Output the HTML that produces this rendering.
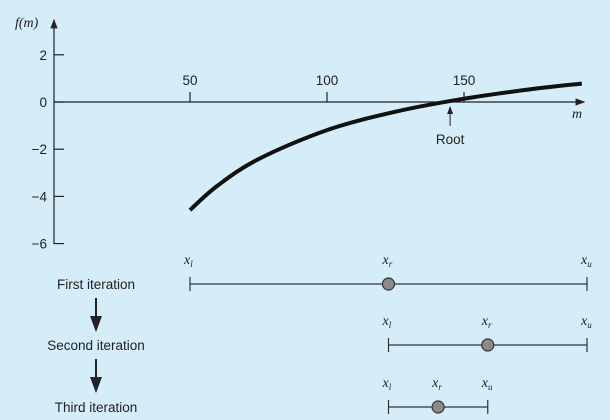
<!DOCTYPE html>
<html><head><meta charset="utf-8"><style>
html,body{margin:0;padding:0;background:#d5ecf9;}
svg{display:block;font-family:"Liberation Sans",sans-serif;}
.t{font-size:13.5px;fill:#222;}
.it{font-family:"Liberation Serif",serif;font-style:italic;font-size:14px;fill:#222;}
</style></head><body>
<svg id="c" width="610" height="420">
<defs><marker id="ah" markerWidth="8" markerHeight="8" refX="7" refY="4" orient="auto"><path d="M0,1 L8,4 L0,7 z" fill="#222"/></marker></defs>
</svg>
<script>
const mValues=[50,60,75,100,125,150,175,193];
const fValues=[-4.58,-3.55,-2.42,-1.19,-0.41,0.14,0.55,0.78];
const yTicks=[2,0,-2,-4,-6];
const yTickLabels=["2","0","\u22122","\u22124","\u22126"];
const xTicks=[50,100,150];
const rootValue=142.74;
const iterNames=["First iteration","Second iteration","Third iteration"];
const iterLower=[50,125,125];
const iterRoot=[125,162.5,143.75];
const iterUpper=[200,200,162.5];

const NS="http://www.w3.org/2000/svg";
const svg=document.getElementById('c');
const X=m=>53+m*2.74;
const Y=f=>102-f*23.6;
const XI=m=>190+(m-50)*(397/150);
function mk(tag,a,txt){const e=document.createElementNS(NS,tag);for(const k in a)e.setAttribute(k,a[k]);if(txt!=null)e.textContent=txt;svg.appendChild(e);return e;}

let e=mk('line',{x1:54,y1:244,x2:54,y2:20,stroke:'#222','stroke-width':1.2,'marker-end':'url(#ah)'});


e=mk('line',{x1:54,y1:102,x2:584,y2:102,stroke:'#222','stroke-width':1.2,'marker-end':'url(#ah)'});


e=mk('text',{x:15,y:27,class:'it'},'f(m)');


e=mk('text',{x:572,y:118,class:'it'},'m');


yTicks.forEach((v,i)=>{
 const t=mk('line',{x1:54,x2:64,y1:Y(v),y2:Y(v),stroke:'#222','stroke-width':1.2});
 
 
 const l=mk('text',{x:47,y:Y(v)+5,class:'t','text-anchor':'end'},yTickLabels[i]);
 
 
});
xTicks.forEach(v=>{
 const t=mk('line',{x1:X(v),x2:X(v),y1:92,y2:102,stroke:'#222','stroke-width':1.2});
 
 
 const l=mk('text',{x:X(v),y:85,class:'t','text-anchor':'middle'},String(v));
 
 
});
const pts=mValues.map((m,i)=>[X(m),Y(fValues[i])]);
let d='M'+pts[0][0]+','+pts[0][1];
for(let i=0;i<pts.length-1;i++){
 const p0=pts[i-1]||pts[i],p1=pts[i],p2=pts[i+1],p3=pts[i+2]||p2;
 d+=' C'+(p1[0]+(p2[0]-p0[0])/6)+','+(p1[1]+(p2[1]-p0[1])/6)+' '+(p2[0]-(p3[0]-p1[0])/6)+','+(p2[1]-(p3[1]-p1[1])/6)+' '+p2[0]+','+p2[1];
}
e=mk('path',{d:d,fill:'none',stroke:'#111','stroke-width':4,'stroke-linecap':'butt'});


e=mk('line',{x1:X(rootValue)+6,y1:126,x2:X(rootValue)+6,y2:107,stroke:'#222','stroke-width':1,'marker-end':'url(#ah)'});


e=mk('text',{x:X(rootValue)+6,y:144,class:'t','text-anchor':'middle'},'Root');



const rowY=[284,345,407];
iterNames.forEach((n,i)=>{
 const y=rowY[i];
 const l=mk('text',{x:96,y:y+5,class:'t','text-anchor':'middle'},n);
 
 
 const a=XI(iterLower[i]),b=XI(iterUpper[i]),r=XI(iterRoot[i]);
 const ln=mk('line',{x1:a,x2:b,y1:y,y2:y,stroke:'#333','stroke-width':1.2});
 
 
 [a,b].forEach(x=>{
  const t=mk('line',{x1:x,x2:x,y1:y-7,y2:y+7,stroke:'#333','stroke-width':1.2});
  
  
 });
 const c=mk('circle',{cx:r,cy:y,r:6,fill:'#8a8a8a',stroke:'#333','stroke-width':1.2});
 
 
 [[a,'l'],[r,'r'],[b,'u']].forEach(([x,s])=>{
  const t=mk('text',{x:x-6,y:y-20,class:'it'});
  t.innerHTML='x<tspan font-size="9" dy="3">'+s+'</tspan>';
  
  
 });
 if(i<2){
  const ar=mk('line',{x1:96,x2:96,y1:y+14,y2:y+46,stroke:'#222','stroke-width':2,'marker-end':'url(#ah)'});
  
  
 }
});
</script>
</body></html>
